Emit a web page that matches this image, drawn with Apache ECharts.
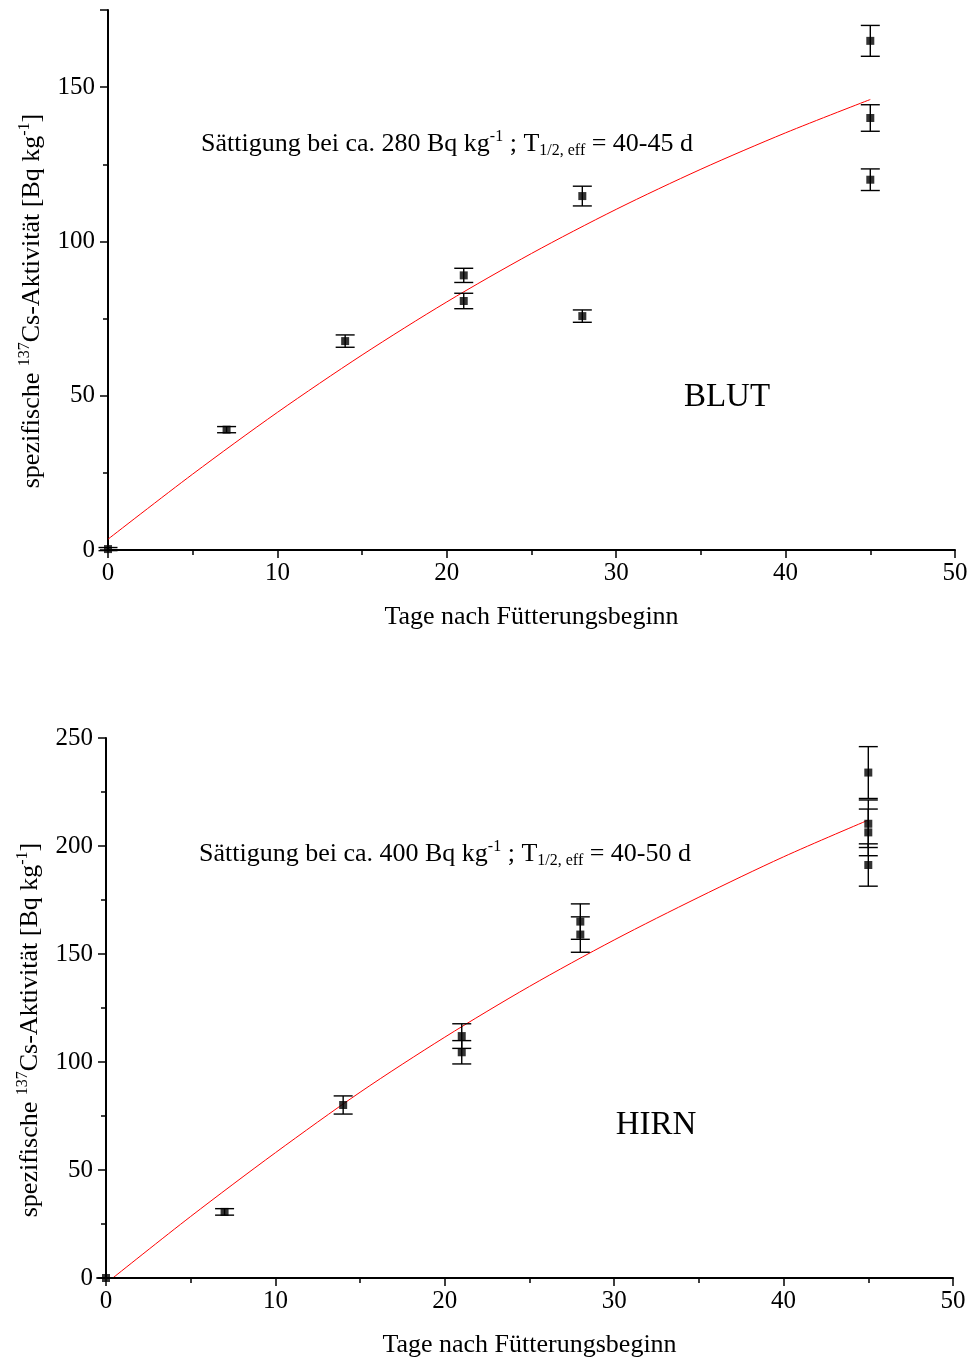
<!DOCTYPE html>
<html>
<head>
<meta charset="utf-8">
<title>137Cs-Aktivität Blut / Hirn</title>
<script src="https://cdn.jsdelivr.net/npm/echarts@6/dist/echarts.min.js"></script>
<style>
  html, body { margin: 0; padding: 0; background: #fff; }
  #chart { width: 973px; height: 1364px; }
</style>
</head>
<body>
<div id="chart"></div>
<script>
// BLUT (oben)
var blutDays = [0, 7, 14, 21, 21, 28, 28, 45, 45, 45];
var blutValues = [0.3, 39, 67.7, 89, 80.7, 114.7, 75.8, 165, 140, 120];
var blutErrors = [0.5, 1, 2, 2.3, 2.5, 3.2, 2, 5, 4.3, 3.5];
var blutFitDays = [0, 5, 10, 15, 20, 25, 30, 35, 40, 45];
var blutFitValues = [3.5, 24.6, 44.6, 63.2, 80.4, 96.1, 110.4, 123.4, 135.2, 146];

// HIRN (unten)
var hirnDays = [0, 7, 14, 21, 21, 28, 28, 45, 45, 45, 45];
var hirnValues = [0, 30.6, 80.1, 112, 104.5, 165, 159, 234, 210.3, 206.3, 191.2];
var hirnErrors = [0, 1.5, 4.2, 5.7, 5.4, 8.2, 8.2, 12, 11, 10.8, 9.8];
var hirnFitDays = [0.4, 5, 10, 15, 20, 25, 30, 35, 40, 45];
var hirnFitValues = [0, 28.5, 58, 86, 111.5, 135, 156.5, 176.3, 195, 212];

// Achsen
var xMin = 0, xMax = 50, xStep = 10;
var blutYMax = 175, hirnYMax = 250, yStep = 50;

var serif = '"Liberation Serif", "Times New Roman", serif';
var black = '#000';

function zip(a, b, c) {
  return a.map(function (v, i) {
    return c ? [v, b[i], c[i]] : [v, b[i]];
  });
}

function errorBars(params, api) {
  var x = api.value(0);
  var hi = api.coord([x, api.value(1) + api.value(2)]);
  var lo = api.coord([x, api.value(1) - api.value(2)]);
  var half = 9.5;
  var st = { stroke: black, lineWidth: 1.4 };
  return {
    type: 'group',
    children: [
      { type: 'line', shape: { x1: hi[0], y1: hi[1], x2: lo[0], y2: lo[1] }, style: st },
      { type: 'line', shape: { x1: hi[0] - half, y1: hi[1], x2: hi[0] + half, y2: hi[1] }, style: st },
      { type: 'line', shape: { x1: lo[0] - half, y1: lo[1], x2: lo[0] + half, y2: lo[1] }, style: st }
    ]
  };
}

function xAxis(idx) {
  return {
    type: 'value',
    gridIndex: idx,
    min: xMin,
    max: xMax,
    interval: xStep,
    name: 'Tage nach Fütterungsbeginn',
    nameLocation: 'middle',
    nameGap: 54,
    nameTextStyle: { fontFamily: serif, fontSize: 26, color: black },
    axisLine: { show: true, onZero: false, lineStyle: { color: black, width: 2 } },
    axisTick: { show: true, inside: false, length: 8, lineStyle: { color: black, width: 1.5 } },
    minorTick: { show: true, splitNumber: 2, length: 5, lineStyle: { color: black, width: 1.5 } },
    axisLabel: { fontFamily: serif, fontSize: 25, color: black, margin: 11 },
    splitLine: { show: false }
  };
}

function yAxis(idx, max) {
  return {
    type: 'value',
    gridIndex: idx,
    min: 0,
    max: max,
    interval: yStep,
    axisLine: { show: true, onZero: false, lineStyle: { color: black, width: 2 } },
    axisTick: { show: true, inside: false, length: 8, lineStyle: { color: black, width: 1.5 } },
    minorTick: { show: true, splitNumber: 2, length: 5, lineStyle: { color: black, width: 1.5 } },
    axisLabel: {
      fontFamily: serif, fontSize: 25, color: black, margin: 13,
      formatter: function (v) { return v % yStep === 0 ? v : ''; }
    },
    splitLine: { show: false }
  };
}

var richText = {
  m: { fontFamily: serif, fontSize: 26, fill: black },
  s: { fontFamily: serif, fontSize: 16, fill: black, padding: [0, 0, 14, 0] },
  u: { fontFamily: serif, fontSize: 16, fill: black, padding: [14, 0, 0, 0] }
};

function note(x, y, sat, t) {
  return {
    type: 'text',
    x: x,
    y: y,
    style: {
      text: '{m|Sättigung bei ca. ' + sat + ' Bq kg}{s|-1}{m| ; T}{u|1/2, eff}{m| = ' + t + ' d}',
      rich: richText,
      fill: black,
      align: 'left',
      verticalAlign: 'middle'
    }
  };
}

function yTitle(x, y) {
  return {
    type: 'text',
    x: x,
    y: y,
    rotation: Math.PI / 2,
    style: {
      text: '{m|spezifische }{s|137}{m|Cs-Aktivität [Bq kg}{s|-1}{m|]}',
      rich: richText,
      fill: black,
      align: 'center',
      verticalAlign: 'middle'
    }
  };
}

function label(x, y, txt) {
  return {
    type: 'text',
    x: x,
    y: y,
    style: {
      text: txt,
      fontFamily: serif,
      fontSize: 33,
      fill: black,
      align: 'center',
      verticalAlign: 'middle'
    }
  };
}

var chart = echarts.init(document.getElementById('chart'));

var option = {
  backgroundColor: '#fff',
  animation: false,
  grid: [
    { left: 108, right: 18, top: 10, height: 540 },
    { left: 106, right: 20, top: 738, height: 540 }
  ],
  xAxis: [xAxis(0), xAxis(1)],
  yAxis: [yAxis(0, blutYMax), yAxis(1, hirnYMax)],
  graphic: [
    note(201, 144, '280', '40-45'),
    note(199, 854, '400', '40-50'),
    yTitle(32, 301),
    yTitle(30, 1030),
    label(727, 397, 'BLUT'),
    label(656, 1125, 'HIRN')
  ],
  series: [
    {
      type: 'line',
      xAxisIndex: 0,
      yAxisIndex: 0,
      data: zip(blutFitDays, blutFitValues),
      smooth: 0.3,
      showSymbol: false,
      lineStyle: { color: '#ff0000', width: 1 },
      z: 3
    },
    {
      type: 'custom',
      xAxisIndex: 0,
      yAxisIndex: 0,
      renderItem: errorBars,
      data: zip(blutDays, blutValues, blutErrors),
      z: 4
    },
    {
      type: 'scatter',
      xAxisIndex: 0,
      yAxisIndex: 0,
      symbol: 'rect',
      symbolSize: 8,
      itemStyle: { color: black },
      data: zip(blutDays, blutValues),
      z: 5
    },
    {
      type: 'line',
      xAxisIndex: 1,
      yAxisIndex: 1,
      data: zip(hirnFitDays, hirnFitValues),
      smooth: 0.3,
      showSymbol: false,
      lineStyle: { color: '#ff0000', width: 1 },
      z: 3
    },
    {
      type: 'custom',
      xAxisIndex: 1,
      yAxisIndex: 1,
      renderItem: errorBars,
      data: zip(hirnDays, hirnValues, hirnErrors),
      z: 4
    },
    {
      type: 'scatter',
      xAxisIndex: 1,
      yAxisIndex: 1,
      symbol: 'rect',
      symbolSize: 8,
      itemStyle: { color: black },
      data: zip(hirnDays, hirnValues),
      z: 5
    }
  ]
};

chart.setOption(option);
</script>
</body>
</html>
